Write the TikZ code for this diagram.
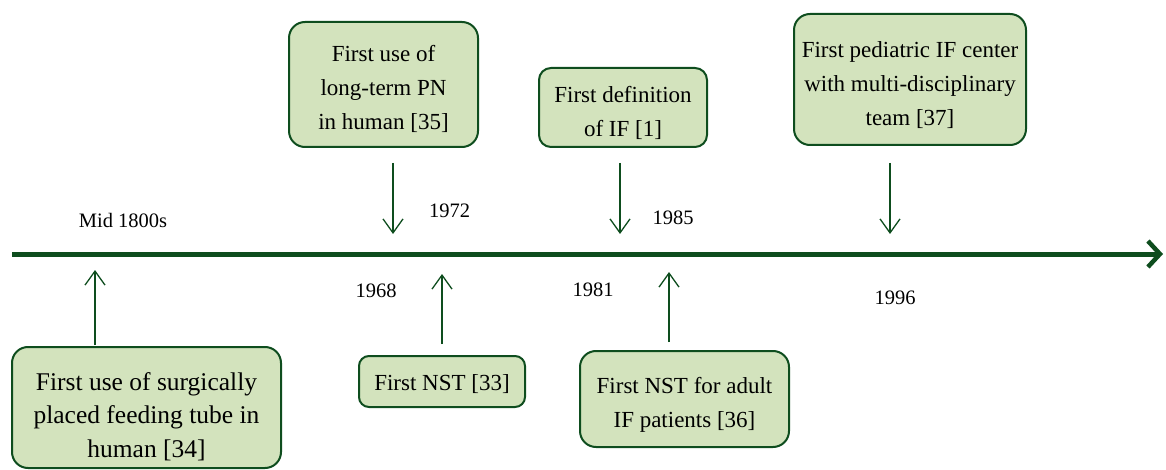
\documentclass[tikz,border=0pt]{standalone}
\usepackage{fontspec}
\setmainfont{Liberation Serif}
\usetikzlibrary{arrows.meta}
\definecolor{dkgreen}{HTML}{0E4D1E}
\definecolor{boxfill}{HTML}{D3E3BD}
\tikzset{
  evbox/.style={draw=dkgreen, line width=2pt, fill=boxfill, rounded corners=16pt, inner sep=0pt},
  boxtext/.style={align=center, inner sep=0pt, font=\fontsize{23}{34}\selectfont, text=black},
  evarrow/.style={draw=dkgreen, line width=1.3pt, -{Straight Barb[length=14pt,width=20pt,line width=1.3pt]}},
  yearlbl/.style={font=\fontsize{20.5}{24}\selectfont, text=black, inner sep=0pt}
}
\begin{document}
\begin{tikzpicture}[x=1pt,y=-1pt]
\useasboundingbox (0,0) rectangle (1166,470);
% timeline
\coordinate (tlstart) at (12,254);
\coordinate (tlend) at (1163,254);
\draw[draw=dkgreen, line width=5pt, -{Straight Barb[length=12pt,width=26pt,line width=4.5pt]}] (tlstart) -- (tlend);

% boxes
\node[evbox, minimum width=269pt, minimum height=121pt] (b1) at (146.5,407.5) {};
\node[evbox, minimum width=189pt, minimum height=125pt] (b2) at (383.5,84.5) {};
\node[evbox, minimum width=166pt, minimum height=51pt, rounded corners=10pt] (b3) at (442,381.5) {};
\node[evbox, minimum width=168pt, minimum height=79pt, rounded corners=12pt] (b4) at (623,107.5) {};
\node[evbox, minimum width=209pt, minimum height=96pt] (b5) at (684.5,399) {};
\node[evbox, minimum width=232pt, minimum height=131pt] (b6) at (910,79.5) {};

% box texts
\node[boxtext, font=\fontsize{25.5}{33.5}\selectfont] (t1) at ([yshift=-9pt]b1.center) {First use of surgically\\placed feeding tube in\\human [34]};
\node[boxtext] (t2) at ([yshift=-4pt]b2.center) {First use of\\long-term PN\\in human [35]};
\node[boxtext] (t3) at ([yshift=-3pt]b3.center) {First NST [33]};
\node[boxtext] (t4) at ([yshift=-5pt]b4.center) {First definition\\of IF [1]};
\node[boxtext] (t5) at ([yshift=-6pt]b5.center) {First NST for adult\\IF patients [36]};
\node[boxtext] (t6) at ([yshift=-6pt]b6.center) {First pediatric IF center\\with multi-disciplinary\\team [37]};

% arrow endpoints
\coordinate (a1s) at (95,345); \coordinate (a1e) at (95,270);
\coordinate (a2s) at (393,163); \coordinate (a2e) at (393,234);
\coordinate (a3s) at (442,344); \coordinate (a3e) at (442,274);
\coordinate (a4s) at (620,163); \coordinate (a4e) at (620,234);
\coordinate (a5s) at (669,342); \coordinate (a5e) at (669,272);
\coordinate (a6s) at (890,163); \coordinate (a6e) at (890,234);
\draw[evarrow] (a1s) -- (a1e);
\draw[evarrow] (a2s) -- (a2e);
\draw[evarrow] (a3s) -- (a3e);
\draw[evarrow] (a4s) -- (a4e);
\draw[evarrow] (a5s) -- (a5e);
\draw[evarrow] (a6s) -- (a6e);

% year labels
\node[yearlbl] (y1) at (123,220) {Mid 1800s};
\node[yearlbl] (y2) at (449.5,211) {1972};
\node[yearlbl] (y3) at (376,291) {1968};
\node[yearlbl] (y4) at (673,218) {1985};
\node[yearlbl] (y5) at (593,290) {1981};
\node[yearlbl] (y6) at (895,298) {1996};
\end{tikzpicture}
\end{document}
